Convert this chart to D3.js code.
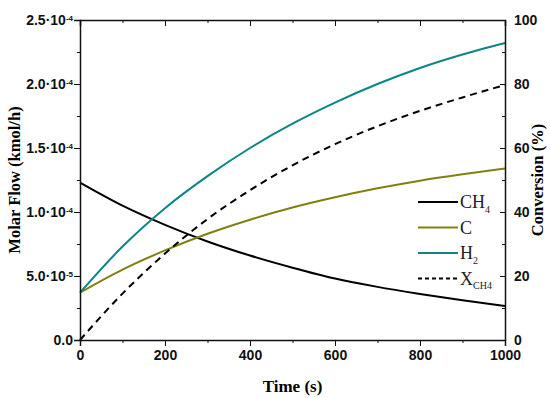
<!DOCTYPE html>
<html>
<head>
<meta charset="utf-8">
<script src="https://cdn.jsdelivr.net/npm/d3@7"></script>
<style>
  body { margin: 0; background: #fff; }
  svg { font-family: "Liberation Serif", "DejaVu Serif", serif; }
  .tick text { font-weight: bold; font-size: 14px; fill: #111; }
  .domain, .tick line { stroke: #111; }
</style>
</head>
<body>
<svg width="550" height="398"></svg>
<script>
// time in seconds
const time = [0, 100, 200, 300, 400, 500, 600, 700, 800, 900, 1000];
// molar flows in kmol/h (x1e-4)
const ch4 = [1.23, 1.05, 0.90, 0.77, 0.66, 0.565, 0.48, 0.415, 0.36, 0.31, 0.265];
const carbon = [0.37, 0.55, 0.70, 0.83, 0.94, 1.035, 1.115, 1.185, 1.245, 1.295, 1.34];
const h2 = [0.37, 0.73, 1.03, 1.28, 1.50, 1.69, 1.855, 2.0, 2.125, 2.23, 2.32];
// methane conversion in %
const xch4 = [0, 14.5, 27, 37.8, 46.8, 54.6, 61.2, 66.8, 71.6, 75.8, 79.7];

const flowTicks = [0, 0.5e-4, 1.0e-4, 1.5e-4, 2.0e-4, 2.5e-4];

const margin = { top: 20, right: 45, bottom: 58, left: 80 };
const width = 550, height = 398;
const svg = d3.select('svg');

const x = d3.scaleLinear().domain([0, 1000]).range([margin.left, width - margin.right]);
const yFlow = d3.scaleLinear().domain([0, 2.5e-4]).range([height - margin.bottom, margin.top]);
const yConv = d3.scaleLinear().domain([0, 100]).range([height - margin.bottom, margin.top]);

const series = [
    { name: 'CH4', values: ch4, color: '#000000', dash: null, scale: yFlow, k: 1e-4 },
    { name: 'C', values: carbon, color: '#808010', dash: null, scale: yFlow, k: 1e-4 },
    { name: 'H2', values: h2, color: '#0b8585', dash: null, scale: yFlow, k: 1e-4 },
    { name: 'XCH4', values: xch4, color: '#000000', dash: '7,5', scale: yConv, k: 1 }
];

// lines
series.forEach(s => {
    const line = d3.line()
        .x((d, i) => x(time[i]))
        .y(d => s.scale(d * s.k))
        .curve(d3.curveMonotoneX);
    svg.append('path')
        .datum(s.values)
        .attr('fill', 'none')
        .attr('stroke', s.color)
        .attr('stroke-width', 2)
        .attr('stroke-dasharray', s.dash)
        .attr('d', line);
});

// axes
const bottom = height - margin.bottom;
const xMinor = d3.range(100, 1000, 200);

svg.append('g').attr('transform', `translate(0,${bottom})`)
    .call(d3.axisBottom(x).tickValues([0, 200, 400, 600, 800, 1000]).tickSize(6).tickPadding(4).tickFormat(d3.format('d')))
    .call(g => g.select('.domain').attr('stroke-width', 1.5));
svg.append('g').attr('transform', `translate(0,${bottom})`)
    .call(d3.axisBottom(x).tickValues(xMinor).tickSize(3).tickFormat(''))
    .call(g => g.select('.domain').remove());

svg.append('g').attr('transform', `translate(0,${margin.top})`)
    .call(d3.axisBottom(x).tickValues([0, 200, 400, 600, 800, 1000]).tickSize(6).tickFormat(''))
    .call(g => g.select('.domain').attr('stroke-width', 1.5));
svg.append('g').attr('transform', `translate(0,${margin.top})`)
    .call(d3.axisBottom(x).tickValues(xMinor).tickSize(3).tickFormat(''))
    .call(g => g.select('.domain').remove());

const leftAxis = svg.append('g').attr('transform', `translate(${margin.left},0)`)
    .call(d3.axisLeft(yFlow).tickValues(flowTicks).tickSize(6).tickPadding(4).tickFormat(''))
    .call(g => g.select('.domain').attr('stroke-width', 1.5));
svg.append('g').attr('transform', `translate(${margin.left},0)`)
    .call(d3.axisLeft(yFlow).tickValues(d3.range(0.25e-4, 2.5e-4, 0.5e-4)).tickSize(3).tickFormat(''))
    .call(g => g.select('.domain').remove());

// left tick labels as mantissa·10^exp
leftAxis.selectAll('.tick').each(function (d) {
    const t = d3.select(this).append('text')
        .attr('x', -7).attr('dy', '0.35em')
        .attr('text-anchor', 'end');
    if (d === 0) { t.text('0.0'); return; }
    const e = Math.floor(Math.log10(d) + 1e-9);
    const m = d / Math.pow(10, e);
    t.append('tspan').text(m.toFixed(1) + '\u00b710');
    t.append('tspan').attr('dy', '-0.6em').attr('font-size', '8px').text(e < 0 ? '-' + (-e) : e);
});

const rx = width - margin.right;
svg.append('g').attr('transform', `translate(${rx},0)`)
    .call(d3.axisRight(yConv).tickValues(d3.range(0, 101, 20)).tickSizeInner(-5).tickSizeOuter(0).tickPadding(9))
    .call(g => g.select('.domain').attr('stroke-width', 1.5));
svg.append('g').attr('transform', `translate(${rx},0)`)
    .call(d3.axisRight(yConv).tickValues(d3.range(10, 100, 20)).tickSizeInner(-3).tickSizeOuter(0).tickFormat(''))
    .call(g => g.select('.domain').remove());

// axis titles
svg.append('text')
    .attr('x', (margin.left + rx) / 2).attr('y', 392)
    .attr('text-anchor', 'middle').attr('font-weight', 'bold').attr('font-size', 17)
    .text('Time (s)');
svg.append('text')
    .attr('transform', `translate(20,${(margin.top + bottom) / 2}) rotate(-90)`)
    .attr('text-anchor', 'middle').attr('font-weight', 'bold').attr('font-size', 16.5)
    .text('Molar Flow (kmol/h)');
svg.append('text')
    .attr('transform', `translate(543,${(margin.top + bottom) / 2}) rotate(-90)`)
    .attr('text-anchor', 'middle').attr('font-weight', 'bold').attr('font-size', 16.5)
    .text('Conversion (%)');

// legend
const legend = svg.append('g').attr('transform', 'translate(418,202)');
const labels = {
    CH4: ['CH', '4'], C: ['C', ''], H2: ['H', '2'], XCH4: ['X', 'CH4']
};
series.forEach((s, i) => {
    const row = legend.append('g').attr('transform', `translate(0,${i * 25.5})`);
    row.append('line')
        .attr('x1', 0).attr('x2', 40)
        .attr('stroke', s.color).attr('stroke-width', 2)
        .attr('stroke-dasharray', s.dash ? '4,3' : null);
    const t = row.append('text').attr('x', 42).attr('dy', '0.35em').attr('font-size', 18).attr('fill', '#222');
    t.append('tspan').text(labels[s.name][0]);
    t.append('tspan').attr('dy', '0.45em').attr('font-size', 10).text(labels[s.name][1]);
});
</script>
</body>
</html>
